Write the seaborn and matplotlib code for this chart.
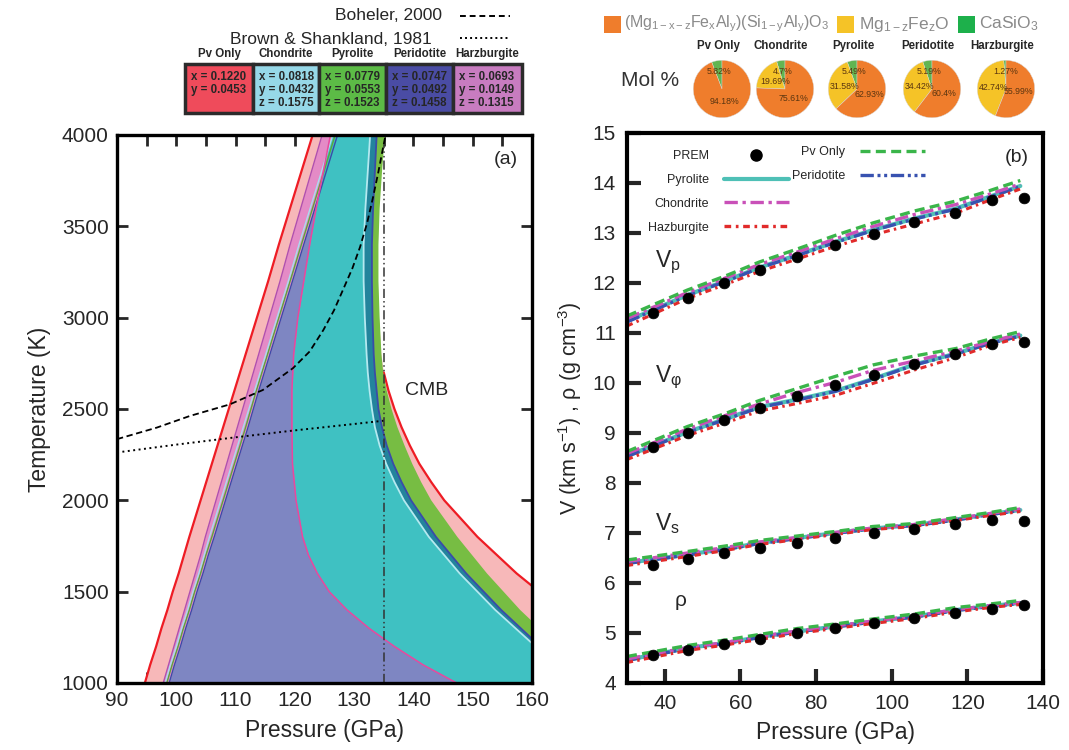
import numpy as np
import pandas as pd
import matplotlib
matplotlib.use("Agg")
import matplotlib.pyplot as plt
import seaborn as sns
from matplotlib.patches import Rectangle
from matplotlib.lines import Line2D

# ---------------- panel (a) data: phase-boundary loops (P in GPa at each T) ----------------
# low-pressure (left) boundaries and the Harzburgite high-pressure boundary, on T_left
T_left = [1000, 1100, 1200, 1300, 1400, 1500, 1600, 1700, 1800, 2000, 2200, 2400, 2600, 2800, 3000, 3200, 3400, 3600, 3800, 4000]
pvonly_left = [94.7, 95.6, 96.6, 97.5, 98.5, 99.4, 100.4, 101.3, 102.2, 104.1, 106.0, 107.9, 109.8, 111.7, 113.6, 115.5, 117.3, 119.2, 121.1, 123.0]
harz_left = [97.8, 98.7, 99.6, 100.5, 101.4, 102.3, 103.2, 104.1, 104.9, 106.7, 108.5, 110.3, 112.1, 113.9, 115.7, 117.5, 119.2, 121.0, 122.8, 124.6]
chond_left = [98.1, 99.0, 100.0, 100.9, 101.9, 102.8, 103.8, 104.7, 105.6, 107.5, 109.4, 111.3, 113.2, 115.1, 117.0, 118.9, 120.7, 122.6, 124.5, 126.4]
pyro_left = [98.4, 99.3, 100.3, 101.2, 102.2, 103.1, 104.1, 105.0, 106.0, 107.9, 109.8, 111.7, 113.5, 115.4, 117.3, 119.2, 121.1, 123.0, 124.9, 126.8]
perid_left = [98.8, 99.7, 100.7, 101.6, 102.6, 103.5, 104.5, 105.4, 106.4, 108.3, 110.2, 112.1, 113.9, 115.8, 117.7, 119.6, 121.5, 123.4, 125.3, 127.2]
harz_right = [147.3, 141.6, 136.8, 132.5, 128.8, 125.8, 123.8, 122.3, 121.3, 120.2, 119.6, 119.5, 119.5, 119.8, 120.5, 121.5, 122.5, 123.6, 124.8, 126.0]

# high-pressure (right) boundaries, on T_right
T_right = [1000, 1200, 1400, 1600, 1800, 2000, 2100, 2200, 2300, 2400, 2500, 2600, 2700, 2800, 3000, 3200, 3400, 3600, 3800, 4000]
pvonly_right = [181.0, 172.5, 165.0, 157.4, 150.8, 145.2, 143.0, 141.0, 139.4, 138.0, 136.8, 135.8, 135.0, 134.6, 134.2, 134.0, 134.0, 134.2, 134.6, 135.1]
pyro_right = [171.0, 164.5, 158.0, 152.4, 147.4, 143.0, 141.3, 139.8, 138.5, 137.3, 136.3, 135.5, 134.9, 134.6, 134.3, 134.1, 134.1, 134.3, 134.7, 135.2]
perid_right = [168.0, 161.4, 154.8, 148.9, 143.8, 139.6, 138.0, 136.6, 135.5, 134.7, 134.1, 133.8, 133.5, 133.3, 133.1, 133.0, 133.0, 133.2, 133.5, 133.8]
chond_right = [166.8, 160.6, 153.8, 147.8, 142.6, 138.4, 136.8, 135.4, 134.3, 133.5, 133.0, 132.6, 132.3, 132.1, 131.8, 131.6, 131.6, 131.9, 132.3, 132.7]

boehler_P = [90.0, 96.7, 102.3, 109.0, 114.6, 119.7, 122.5, 124.8, 126.6, 128.1, 129.7, 131.0, 132.2, 133.2, 134.1, 134.9, 135.3]
boehler_T = [2335, 2398, 2462, 2525, 2604, 2724, 2815, 2932, 3040, 3151, 3270, 3387, 3520, 3661, 3800, 3934, 4000]
bs_P = [90, 100, 110, 120, 130, 135]
bs_T = [2262, 2305, 2345, 2383, 2418, 2436]
cmb_P = [135, 135]
cmb_T = [1000, 3950]

# ---------------- panel (b) data ----------------
prem_P = [37.0, 46.2, 55.6, 65.2, 75.0, 85.0, 95.3, 105.9, 116.8, 126.4, 135.0]
prem_vp = [11.41, 11.71, 12.00, 12.27, 12.53, 12.76, 12.99, 13.22, 13.41, 13.66, 13.70]
prem_vphi = [8.71, 9.00, 9.27, 9.51, 9.74, 9.96, 10.17, 10.38, 10.59, 10.79, 10.83]
prem_vs = [6.37, 6.49, 6.61, 6.71, 6.81, 6.91, 7.01, 7.09, 7.18, 7.26, 7.25]
prem_rho = [4.56, 4.67, 4.79, 4.89, 5.00, 5.10, 5.20, 5.30, 5.41, 5.49, 5.56]

model_P = [30, 46, 56, 65, 75, 85, 95, 106, 117, 126, 134]
vp_pvonly = [11.34, 11.86, 12.14, 12.42, 12.68, 12.95, 13.20, 13.44, 13.64, 13.85, 14.05]
vp_chond = [11.29, 11.81, 12.10, 12.37, 12.62, 12.88, 13.13, 13.37, 13.57, 13.78, 13.98]
vp_pyro = [11.24, 11.76, 12.04, 12.31, 12.56, 12.82, 13.06, 13.29, 13.49, 13.73, 13.94]
vp_perid = [11.22, 11.75, 12.03, 12.30, 12.55, 12.81, 13.05, 13.28, 13.48, 13.72, 13.93]
vp_harz = [11.14, 11.69, 11.97, 12.23, 12.48, 12.73, 12.96, 13.18, 13.40, 13.66, 13.88]

vphi_pvonly = [8.63, 9.13, 9.39, 9.65, 9.89, 10.13, 10.36, 10.54, 10.69, 10.88, 11.03]
vphi_chond = [8.59, 9.08, 9.35, 9.58, 9.81, 10.01, 10.25, 10.44, 10.64, 10.83, 10.98]
vphi_pyro = [8.54, 9.02, 9.28, 9.52, 9.67, 9.84, 10.08, 10.37, 10.59, 10.80, 10.95]
vphi_perid = [8.53, 9.01, 9.27, 9.51, 9.66, 9.83, 10.07, 10.36, 10.58, 10.79, 10.94]
vphi_harz = [8.47, 8.95, 9.20, 9.44, 9.59, 9.75, 9.99, 10.26, 10.51, 10.75, 10.91]

vs_pvonly = [6.46, 6.63, 6.74, 6.85, 6.94, 7.03, 7.13, 7.19, 7.31, 7.41, 7.51]
vs_chond = [6.43, 6.60, 6.71, 6.82, 6.91, 7.01, 7.10, 7.17, 7.29, 7.39, 7.48]
vs_pyro = [6.40, 6.57, 6.68, 6.80, 6.90, 7.00, 7.09, 7.16, 7.27, 7.38, 7.46]
vs_perid = [6.39, 6.56, 6.67, 6.79, 6.89, 6.99, 7.09, 7.15, 7.26, 7.37, 7.45]
vs_harz = [6.35, 6.53, 6.65, 6.77, 6.87, 6.97, 7.07, 7.13, 7.25, 7.35, 7.43]

rho_pvonly = [4.53, 4.75, 4.86, 4.97, 5.09, 5.18, 5.28, 5.38, 5.51, 5.58, 5.65]
rho_chond = [4.48, 4.71, 4.81, 4.93, 5.04, 5.14, 5.24, 5.34, 5.47, 5.55, 5.61]
rho_pyro = [4.46, 4.70, 4.80, 4.92, 5.03, 5.13, 5.23, 5.33, 5.46, 5.54, 5.60]
rho_perid = [4.45, 4.69, 4.79, 4.91, 5.02, 5.12, 5.22, 5.32, 5.45, 5.53, 5.59]
rho_harz = [4.41, 4.65, 4.76, 4.87, 4.99, 5.09, 5.19, 5.29, 5.42, 5.51, 5.57]

# ---------------- header data ----------------
comp_names = ["Pv Only", "Chondrite", "Pyrolite", "Peridotite", "Harzburgite"]
table_x = ["0.1220", "0.0818", "0.0779", "0.0747", "0.0693"]
table_y = ["0.0453", "0.0432", "0.0553", "0.0492", "0.0149"]
table_z = ["", "0.1575", "0.1523", "0.1458", "0.1315"]
table_colors = ["#ef4b5b", "#96d8e8", "#5cbb46", "#4a4ca4", "#c87cc0"]

pie_ca = [5.82, 4.7, 5.49, 5.19, 1.27]       # CaSiO3
pie_fp = [0.0, 19.69, 31.58, 34.42, 42.74]   # Mg1-zFezO
pie_pv = [94.18, 75.61, 62.93, 60.4, 55.99]  # perovskite
pie_colors = ["#62b552", "#f5c327", "#ef7d2c"]

# ---------------- figure ----------------
sns.set_theme(style="white")
plt.rcParams["font.family"] = ["Liberation Sans", "DejaVu Sans"]
plt.rcParams["mathtext.fontset"] = "custom"
plt.rcParams["mathtext.rm"] = "Liberation Sans"
plt.rcParams["mathtext.it"] = "Liberation Sans:italic"
plt.rcParams["mathtext.bf"] = "Liberation Sans:bold"
plt.rcParams["axes.linewidth"] = 2.4
plt.rcParams["axes.edgecolor"] = "black"

W, H = 1069, 750
def fx(px):
    return px / W
def fy(py):
    return 1 - py / H

fig = plt.figure(figsize=(W / 100, H / 100), dpi=100)
fig.patch.set_facecolor("white")

# ================= panel (a) =================
axA = fig.add_axes([fx(117), fy(683), (532 - 117) / W, (683 - 135) / H])
TL = np.array(T_left)
TR = np.array(T_right)

def loop(ax, left, right, color, z):
    ax.fill(np.r_[left, right[::-1]], np.r_[TL, TR[::-1]], color=color, lw=0, zorder=z)

loop(axA, pvonly_left, pvonly_right, "#f7b8b9", 1)
axA.plot(pvonly_left, TL, color="#ee1c24", lw=1.6, zorder=1.5)
axA.plot(pvonly_right[:13], TR[:13], color="#ee1c24", lw=1.6, zorder=1.5)
loop(axA, pyro_left, pyro_right, "#77bd43", 2)
loop(axA, perid_left, perid_right, "#23849c", 3)
loop(axA, chond_left, chond_right, "#3fc1c2", 4)
axA.fill_betweenx(TL, harz_left, harz_right, color="#e48bc6", lw=0, zorder=5)
pl = np.array(perid_left)
hr = np.array(harz_right)
axA.fill_betweenx(TL, pl, hr, where=pl < hr, interpolate=True, color="#7e86c2", lw=0, zorder=6)
axA.plot(chond_right, TR, color="#b4e9f0", lw=1.3, zorder=7)
axA.plot(perid_right, TR, color="#3a4ca8", lw=1.3, zorder=7)
axA.plot(pyro_left, TL, color="#5aa83a", lw=1.0, zorder=7)
axA.plot(chond_left, TL, color="#a9def0", lw=1.0, zorder=7)
axA.plot(perid_left, TL, color="#3a4ca8", lw=1.0, zorder=7)
axA.plot(harz_left, TL, color="#b04fb0", lw=1.0, zorder=7)
axA.plot(harz_right, TL, color="#e8489e", lw=1.1, zorder=7)

sns.lineplot(x=boehler_P, y=boehler_T, ax=axA, color="black", lw=1.3, sort=False,
             linestyle=(0, (3.5, 2)), zorder=9)
sns.lineplot(x=bs_P, y=bs_T, ax=axA, color="black", lw=1.4, sort=False,
             linestyle=(0, (1, 1.8)), zorder=9)
axA.plot(cmb_P, cmb_T, color="#333333", lw=1.1, linestyle=(0, (6, 2, 1, 2, 1, 2)), zorder=9)

axA.set_xlim(90, 160)
axA.set_ylim(1000, 4000)
axA.set_xticks(np.arange(90, 161, 5))
axA.set_xticklabels([str(v) if v % 10 == 0 else "" for v in range(90, 161, 5)])
axA.set_yticks(np.arange(1000, 4001, 500))
axA.tick_params(direction="in", length=8, width=2, top=True, right=True, labelsize=15,
                bottom=True, left=True, pad=6)
axA.set_xlabel("Pressure (GPa)", fontsize=16.5, labelpad=6)
axA.set_ylabel("Temperature (K)", fontsize=16.5, labelpad=8)
axA.text(0.965, 0.955, "(a)", transform=axA.transAxes, ha="right", va="center", fontsize=14)
axA.text(138.5, 2600, "CMB", ha="left", va="center", fontsize=14)
for s in axA.spines.values():
    s.set_zorder(20)

# ================= panel (b) =================
axB = fig.add_axes([fx(627), fy(683), (1043 - 627) / W, (683 - 133) / H])

styles = {
    "Pv Only": ("#3ab54a", (3, 1.6)),
    "Pyrolite": ("#4ec0b6", ""),
    "Chondrite": ("#c950b8", (4, 1.4, 1, 1.4)),
    "Hazburgite": ("#e12b2b", (2, 1.4, 0.8, 1.4)),
    "Peridotite": ("#3852b0", (4, 1.1, 0.9, 1.1, 0.9, 1.1)),
}
model_series = {
    "Pyrolite": [vp_pyro, vphi_pyro, vs_pyro, rho_pyro],
    "Peridotite": [vp_perid, vphi_perid, vs_perid, rho_perid],
    "Chondrite": [vp_chond, vphi_chond, vs_chond, rho_chond],
    "Hazburgite": [vp_harz, vphi_harz, vs_harz, rho_harz],
    "Pv Only": [vp_pvonly, vphi_pvonly, vs_pvonly, rho_pvonly],
}
props = ["Vp", "Vphi", "Vs", "rho"]
rows = []
for comp, series in model_series.items():
    for prop, vals in zip(props, series):
        for p, v in zip(model_P, vals):
            rows.append({"P": p, "value": v, "composition": comp, "property": prop})
df = pd.DataFrame(rows)
order = list(model_series.keys())
sns.lineplot(data=df, x="P", y="value", hue="composition", style="composition",
             units="property", estimator=None, hue_order=order, style_order=order,
             palette={k: styles[k][0] for k in order},
             dashes={k: styles[k][1] for k in order},
             size="composition", sizes={"Pyrolite": 3.0, "Peridotite": 2.4, "Chondrite": 2.4,
                                        "Hazburgite": 2.2, "Pv Only": 2.4},
             legend=False, ax=axB, zorder=3)

prem_df = pd.DataFrame({"P": prem_P * 4,
                        "value": prem_vp + prem_vphi + prem_vs + prem_rho})
sns.scatterplot(data=prem_df, x="P", y="value", color="black", s=60, edgecolor="black",
                linewidth=0.5, ax=axB, zorder=6, legend=False)

axB.set_xlim(30, 140)
axB.set_ylim(4, 15)
axB.set_xticks(np.arange(40, 141, 20))
axB.set_yticks(np.arange(4, 16, 1))
axB.tick_params(direction="in", length=10, width=3, top=False, right=False,
                bottom=True, left=True, labelsize=15, pad=8)
axB.set_xlabel("Pressure (GPa)", fontsize=16.5, labelpad=6)
axB.set_ylabel(r"V (km s$^{-1}$) , ρ (g cm$^{-3}$)", fontsize=15.5, labelpad=6)
for s in axB.spines.values():
    s.set_linewidth(3)
    s.set_zorder(20)

axB.text(0.067, 0.765, r"V$_\mathrm{p}$", transform=axB.transAxes, fontsize=16.5, ha="left", va="center")
axB.text(0.067, 0.555, r"V$_\mathrm{φ}$", transform=axB.transAxes, fontsize=16.5, ha="left", va="center")
axB.text(0.067, 0.29, r"V$_\mathrm{s}$", transform=axB.transAxes, fontsize=16.5, ha="left", va="center")
axB.text(0.115, 0.15, "ρ", transform=axB.transAxes, fontsize=15, ha="left", va="center")
axB.text(0.965, 0.955, "(b)", transform=axB.transAxes, fontsize=14, ha="right", va="center")

def handle(name):
    c, d = styles[name]
    lw = 3.0 if name == "Pyrolite" else 2.4
    h = Line2D([], [], color=c, lw=lw)
    if d != "":
        h.set_dashes(d)
    return h

prem_h = Line2D([], [], marker="o", ls="", color="black", markersize=8)
leg1 = axB.legend([prem_h, handle("Pyrolite"), handle("Chondrite"), handle("Hazburgite")],
                  ["PREM", "Pyrolite", "Chondrite", "Hazburgite"],
                  loc="upper left", bbox_to_anchor=(fx(643), fy(145)), bbox_transform=fig.transFigure,
                  frameon=False, markerfirst=False, fontsize=9, handlelength=5.2,
                  handletextpad=1.2, labelspacing=0.95, borderaxespad=0, numpoints=1)
axB.add_artist(leg1)
axB.legend([handle("Pv Only"), handle("Peridotite")], ["Pv Only", "Peridotite"],
           loc="upper left", bbox_to_anchor=(fx(787), fy(141)), bbox_transform=fig.transFigure,
           frameon=False, markerfirst=False, fontsize=9, handlelength=5.2,
           handletextpad=1.2, labelspacing=0.95, borderaxespad=0)

# ================= header over panel (a) =================
fig.text(fx(442), fy(16), "Boheler, 2000", ha="right", va="center", fontsize=12.5)
fig.text(fx(432), fy(39), "Brown & Shankland, 1981", ha="right", va="center", fontsize=12.5)
fig.add_artist(Line2D([fx(460), fx(510)], [fy(16), fy(16)], transform=fig.transFigure,
                      color="black", lw=1.4, linestyle=(0, (3, 2))))
fig.add_artist(Line2D([fx(460), fx(510)], [fy(38), fy(38)], transform=fig.transFigure,
                      color="black", lw=1.4, linestyle=(0, (1, 1.6))))

box_edges = [185, 253, 319, 386, 453, 522]
for i, name in enumerate(comp_names):
    x0, x1 = box_edges[i], box_edges[i + 1]
    fig.add_artist(Rectangle((fx(x0), fy(113)), (x1 - x0) / W, (113 - 64) / H,
                             transform=fig.transFigure, facecolor=table_colors[i],
                             edgecolor="#2b2b2b", lw=2.5))
    fig.text(fx((x0 + x1) / 2), fy(54), name, ha="center", va="center",
             fontsize=8.3, fontweight="bold")
    lines = ["x = " + table_x[i], "y = " + table_y[i]]
    if table_z[i]:
        lines.append("z = " + table_z[i])
    for j, s in enumerate(lines):
        fig.text(fx(x0 + 6), fy(77 + 13 * j), s, ha="left", va="center",
                 fontsize=8.3, fontweight="bold")

# ================= pies (top right) =================
fig.add_artist(Rectangle((fx(604), fy(33)), 17 / W, 17 / H, transform=fig.transFigure,
                         facecolor=pie_colors[2], edgecolor="none"))
fig.text(fx(624), fy(24), r"(Mg$_\mathrm{1-x-z}$Fe$_\mathrm{x}$Al$_\mathrm{y}$)(Si$_\mathrm{1-y}$Al$_\mathrm{y}$)O$_\mathrm{3}$",
         ha="left", va="center", fontsize=11.5, color="#8a8a8a")
fig.add_artist(Rectangle((fx(837), fy(33)), 17 / W, 17 / H, transform=fig.transFigure,
                         facecolor=pie_colors[1], edgecolor="none"))
fig.text(fx(859), fy(24), r"Mg$_\mathrm{1-z}$Fe$_\mathrm{z}$O", ha="left", va="center",
         fontsize=12.5, color="#8a8a8a")
fig.add_artist(Rectangle((fx(958), fy(33)), 17 / W, 17 / H, transform=fig.transFigure,
                         facecolor="#1db04b", edgecolor="none"))
fig.text(fx(979), fy(24), r"CaSiO$_\mathrm{3}$", ha="left", va="center", fontsize=12.5, color="#8a8a8a")
fig.text(fx(621), fy(81), "Mol %", ha="left", va="center", fontsize=15, color="#333333")

pie_cx = [722, 785, 857, 932, 1006]
pie_cy = 89
for i, name in enumerate(comp_names):
    cx = pie_cx[i]
    fig.text(fx(cx - 4), fy(46), name, ha="center", va="center", fontsize=8.3, fontweight="bold")
    axp = fig.add_axes([fx(cx - 31), fy(pie_cy + 31), 62 / W, 62 / H])
    vals = [pie_ca[i], pie_fp[i], pie_pv[i]]
    keep = [k for k, v in enumerate(vals) if v > 0]
    wedges, _ = axp.pie([vals[k] for k in keep], colors=[pie_colors[k] for k in keep],
                        startangle=90, counterclock=True, radius=1.0,
                        wedgeprops=dict(linewidth=0.3, edgecolor="#d8d8d8"))
    for w, k in zip(wedges, keep):
        ang = np.deg2rad((w.theta1 + w.theta2) / 2)
        r = 0.62 if k == 0 else 0.45
        axp.text(r * np.cos(ang), r * np.sin(ang), "{:g}%".format(vals[k]), ha="center",
                 va="center", fontsize=6.3, color="#5a3510")
    axp.set_xlim(-1.08, 1.08)
    axp.set_ylim(-1.08, 1.08)
    axp.set_aspect("equal")
    axp.axis("off")

fig.savefig("out.png", dpi=100)
